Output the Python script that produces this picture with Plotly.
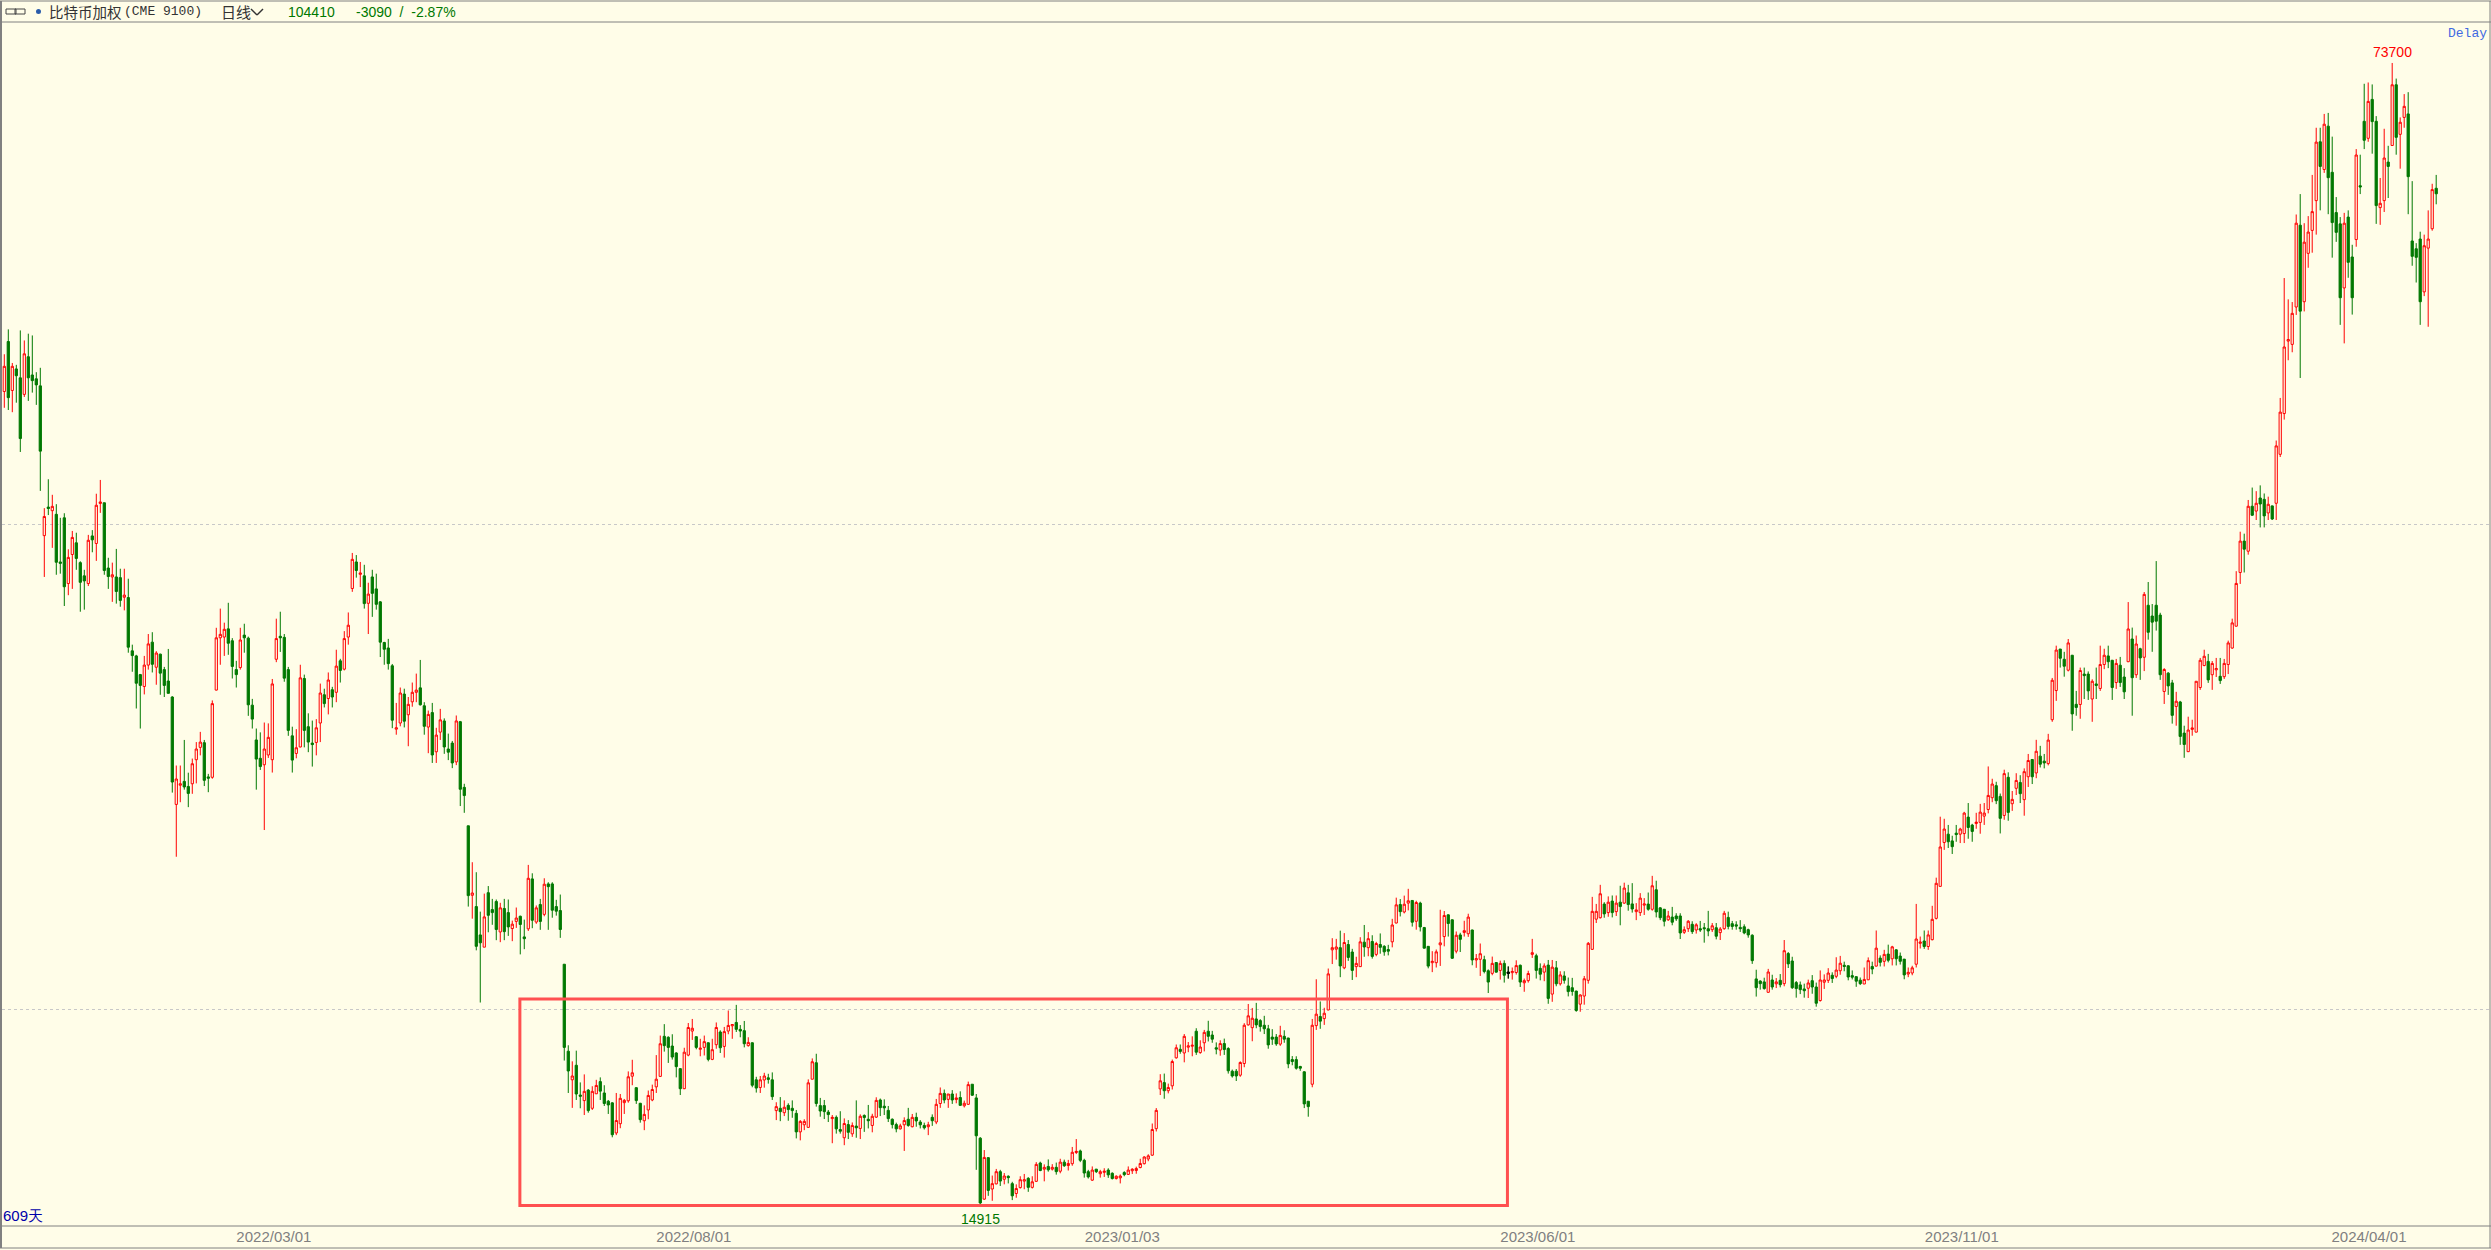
import math
import plotly.graph_objects as go

# 比特币加权 (CME 9100) daily bars, 609 days. R = up (hollow), G = down
colors = (
    "RGRGGRGGGG" "RGRGGGRRGG" "GRGRRGGRGG" "RGGGGRRGRG" "GGGRRGGRRR"
    "GGRRRRGGGR" "GGGGGRRRRG" "GGGRRGGGRR" "GRGRGRRRGR" "GRGGGGGGRR"
    "GRRRGGRGRR" "GGGRGGGRGG" "RGGGRGGRRG" "GRGRGRGGGG" "GGRGGRGRRG"
    "GGGRRRRRGG" "RRRRRGGGGG" "RRRGRRGRRG" "RRRGGGRGGR" "RGGRGRGGGR"
    "RRRGGGGRGG" "RGRGRGGRRG" "GGGGRRGRGG" "GRGRRGRGRG" "RRGGGRGRRG"
    "RGGRRRGRRG" "RGRGRGRRRG" "GGRGRRGGRR" "GRRRRRRRRR" "GRRRGRRRGR"
    "RGGGRGGGGR" "RRRGGGGGGR" "GGGGGGGRRG" "RRRRGRGGRR" "GRGRGGGRRG"
    "RRGRGGGRRR" "RGGRGRRGRR" "GGRGRGGRRG" "RRRGGRGRGR" "GGGGRRRRRR"
    "GRGRGRGGRR" "RGRGGGRGGG" "RRGRGGGRGR" "RGGGGGGGGG" "GRGRGRGGGG"
    "GRGGRRRGRR" "GGGGGRRGRG" "RGRGGGRRRR" "GRRRRRGGGR" "RGGRRRRRGG"
    "RGRRGRRGRG" "GRRRGGRGGR" "GGRGRRGGRG" "GRGRGRGGGG" "RGGRGGRRRR"
    "RGRRGRRRRR" "GRGRGGRGRR" "RRRRGRRRRG" "RGGGGRGGRG" "GRGGRRGRGR"
    "RGGGGRRRG"
)

highs = [
    49070, 50805, 48475, 48350, 50730, 50025, 50500, 50375, 47855, 48150,
    39580, 41210, 40325, 39800, 39050, 39300, 37370, 38340, 38245, 36750,
    36315, 38130, 38385, 40385, 41170, 39880, 36930, 36680, 37390, 36370,
    36370, 35865, 32710, 32250, 31400, 32200, 33200, 33285, 32415, 32300,
    31710, 32515, 30440, 27630, 27630, 28635, 27355, 27900, 28550, 28960,
    28635, 27310, 30260, 33490, 34400, 33730, 34680, 33010, 31980, 33490,
    33680, 33080, 30325, 29095, 28940, 29340, 29305, 31180, 33920, 34250,
    33200, 31710, 29170, 29070, 31805, 31370, 29720, 29420, 29480, 30980,
    30760, 31465, 30840, 32480, 32070, 33335, 34215, 37180, 37070, 36715,
    36570, 35665, 36315, 36120, 34760, 32840, 32975, 31840, 30155, 30810,
    30760, 30405, 31025, 31415, 32020, 30185, 29835, 30155, 29125, 29905,
    29510, 28890, 28595, 29630, 29405, 26935, 25400, 24140, 23805, 22530,
    23105, 23350, 22935, 22915, 22810, 22935, 22915, 22250, 22660, 22405,
    22280, 24050, 23770, 22725, 22935, 23605, 23475, 23475, 22905, 23075,
    20935, 18695, 18280, 18555, 17750, 17950, 17585, 17655, 17815, 17875,
    17680, 17320, 17265, 17490, 17465, 17345, 18025, 18320, 17630, 17250,
    17190, 17550, 17695, 18440, 18950, 19255, 18930, 18985, 18515, 18110,
    18630, 19285, 19395, 18930, 18865, 18950, 18770, 18865, 19300, 19090,
    19180, 19625, 19255, 19780, 19230, 19340, 18905, 18770, 17890, 17910,
    17990, 17965, 18000, 17265, 17390, 17310, 17240, 17310, 17080, 16840,
    16860, 17825, 18355, 18475, 17370, 17320, 17080, 16960, 16950, 17050,
    16880, 16840, 16785, 17310, 16975, 16975, 17200, 16990, 17385, 17355,
    17335, 17175, 16880, 16780, 16755, 16905, 17130, 16985, 17015, 16840,
    16780, 16800, 16975, 17345, 17625, 17575, 17465, 17560, 17480, 17530,
    17305, 17770, 17705, 17465, 16445, 16150, 15985, 15585, 15730, 15710,
    15640, 15590, 15450, 15395, 15570, 15620, 15550, 15570, 15880, 15890,
    15830, 15940, 15835, 15870, 15955, 15935, 15930, 16220, 16400, 16160,
    15955, 15710, 15785, 15730, 15710, 15745, 15745, 15655, 15590, 15610,
    15680, 15785, 15745, 15780, 15955, 16010, 16055, 16760, 17125, 17955,
    17970, 17720, 18325, 18715, 18715, 18990, 18780, 18930, 19145, 18825,
    19100, 19345, 19075, 18770, 18825, 18870, 18645, 18070, 18085, 18280,
    19280, 19805, 19695, 19835, 19390, 19480, 19235, 19120, 18990, 19210,
    19090, 18890, 18415, 18410, 18165, 18030, 17290, 19395, 20500, 19875,
    19700, 20810, 21710, 21690, 21940, 21865, 21655, 21390, 21155, 21740,
    22115, 21895, 21800, 21600, 21855, 21500, 21510, 22305, 22975, 22930,
    23040, 23260, 22885, 22875, 22845, 22055, 21475, 21320, 21370, 22590,
    22550, 22445, 22285, 21915, 21875, 22245, 22465, 21970, 21235, 21550,
    21185, 20785, 21160, 20985, 21040, 21050, 20870, 20840, 21050, 20925,
    20520, 20745, 21690, 21245, 20960, 20960, 21060, 21060, 21030, 20730,
    20730, 20550, 20540, 20175, 20075, 20595, 21595, 23000, 22775, 23390,
    22830, 23015, 23045, 23045, 23360, 23460, 23390, 23445, 22800, 23120,
    22960, 23140, 23685, 23525, 22670, 22615, 22555, 22680, 22480, 22480,
    22070, 22265, 22230, 22170, 22240, 22175, 22555, 22175, 22175, 22050,
    22555, 22530, 22240, 22230, 22265, 22135, 22000, 21830, 20775, 20470,
    20545, 20800, 20630, 20535, 20650, 21655, 21295, 21155, 20450, 20435,
    20375, 20490, 20620, 20405, 20755, 20640, 20820, 20700, 21140, 21180,
    21010, 20905, 20755, 20570, 20550, 20840, 21135, 21010, 21945, 21195,
    21360, 21515, 21480, 21380, 21280, 21085, 20840, 20890, 22775, 21760,
    21945, 21945, 22715, 23625, 25725, 25650, 25430, 25050, 25430, 25330,
    25900, 26220, 25470, 25865, 26190, 26220, 27595, 27125, 27010, 26570,
    27470, 27370, 26665, 27335, 27260, 27520, 28080, 27880, 28640, 28400,
    28080, 28880, 31225, 32665, 32510, 32385, 32970, 32245, 30665, 31680,
    31680, 31510, 31165, 31680, 32665, 32525, 32665, 32020, 32065, 32155,
    31655, 34715, 33500, 33130, 32570, 35205, 35700, 34620, 36760, 34200,
    31655, 31480, 31140, 30625, 30240, 29210, 29580, 29455, 31080, 32110,
    32480, 32290, 31970, 32110, 32110, 32065, 32895, 33920, 36245, 38300,
    38195, 40035, 40735, 40530, 40860, 40400, 40220, 39720, 43500, 46165,
    54580, 52980, 52780, 59645, 61370, 58925, 59510, 63035, 67325, 67325,
    68640, 68735, 66495, 61115, 59430, 59780, 59990, 57175, 65350, 64840,
    71590, 71720, 71525, 68430, 62765, 67230, 65650, 73700, 72110, 68305,
    70565, 70755, 62490, 57305, 58230, 57990, 59990, 62260, 63035,
]

body_tops = [
    48250, 49950, 48250, 48075, 47480, 49100, 48900, 47670, 47415, 46950,
    39120, 39640, 39680, 39240, 36715, 39050, 36950, 37995, 37710, 36680,
    36010, 37845, 38075, 39740, 39925, 39880, 36405, 36065, 35955, 35920,
    35055, 34935, 32430, 32200, 31370, 31790, 32745, 32825, 32330, 32280,
    31590, 31090, 30405, 27115, 26935, 27025, 26835, 27700, 28275, 28550,
    28525, 27195, 30125, 33025, 33185, 33420, 33440, 32890, 31590, 32925,
    33150, 33010, 30060, 28635, 27910, 28275, 28740, 30965, 32990, 33095,
    33045, 31590, 28800, 28325, 31230, 31200, 29170, 28510, 29125, 30575,
    30500, 31135, 30715, 31745, 31980, 32990, 33610, 36850, 36715, 36155,
    36010, 35105, 35955, 35360, 34725, 32810, 32560, 31760, 29125, 30575,
    30530, 30095, 30605, 30700, 30795, 30035, 29675, 29750, 28830, 29450,
    29405, 28275, 28510, 29405, 29375, 26800, 25400, 23125, 22690, 21810,
    22365, 23135, 22595, 22850, 22650, 22630, 22500, 22140, 22330, 22385,
    21750, 23605, 23585, 22650, 22755, 23410, 23420, 23420, 22690, 22565,
    20935, 18540, 17910, 18180, 17440, 17530, 17560, 17530, 17675, 17770,
    17490, 17290, 17250, 16830, 17360, 17310, 17890, 17990, 17620, 17240,
    16975, 17430, 17575, 17830, 18735, 18930, 18905, 18675, 18495, 18095,
    18515, 19165, 19145, 18920, 18620, 18790, 18760, 18580, 19165, 19045,
    19055, 19220, 19245, 19300, 19115, 19080, 18770, 18760, 17815, 17815,
    17910, 17865, 17815, 17160, 17120, 17145, 17190, 17120, 17000, 16810,
    16810, 17740, 18270, 18245, 17185, 17185, 17030, 16905, 16905, 16620,
    16760, 16735, 16715, 16700, 16930, 16950, 16860, 16930, 17310, 17320,
    17170, 17070, 16860, 16735, 16705, 16830, 16860, 16905, 16905, 16795,
    16715, 16730, 16905, 17215, 17480, 17480, 17465, 17465, 17370, 17380,
    17240, 17695, 17705, 17370, 16420, 15985, 15980, 15410, 15670, 15670,
    15575, 15570, 15410, 15305, 15495, 15495, 15525, 15450, 15830, 15860,
    15765, 15785, 15765, 15765, 15880, 15880, 15850, 16100, 16120, 16130,
    15920, 15670, 15705, 15725, 15670, 15680, 15705, 15635, 15570, 15575,
    15650, 15705, 15725, 15740, 15850, 15995, 16020, 16620, 17070, 17790,
    17745, 17625, 18275, 18630, 18590, 18930, 18680, 18695, 19065, 18650,
    19035, 19065, 18965, 18630, 18740, 18740, 18610, 18030, 18030, 18250,
    19225, 19480, 19415, 19395, 19350, 19225, 19130, 18910, 18910, 18955,
    18930, 18885, 18325, 18325, 18150, 18015, 17290, 19225, 19525, 19460,
    19550, 20655, 21425, 21445, 21425, 21580, 21520, 21295, 20960, 21600,
    21590, 21695, 21610, 21550, 21520, 21465, 21370, 22115, 22745, 22755,
    22765, 22875, 22885, 22820, 22800, 22035, 21465, 21020, 21300, 21570,
    22410, 22430, 22275, 21800, 21810, 21940, 22360, 21960, 21100, 21245,
    21070, 20745, 20960, 20985, 20960, 20960, 20705, 20725, 20895, 20905,
    20460, 20665, 21275, 21185, 20815, 20885, 20910, 20850, 20830, 20625,
    20595, 20310, 20260, 20165, 20055, 20515, 21555, 22540, 22540, 23100,
    22770, 22830, 22865, 22800, 22830, 23285, 23130, 22775, 22585, 22960,
    22775, 22770, 23360, 23230, 22650, 22605, 22395, 22360, 22395, 22395,
    21970, 22230, 22135, 22120, 22000, 22030, 22000, 22090, 22030, 21990,
    22480, 22350, 22155, 22120, 22040, 22060, 21970, 21800, 20510, 20450,
    20425, 20710, 20480, 20425, 20470, 21335, 21250, 21030, 20405, 20340,
    20225, 20395, 20460, 20280, 20480, 20480, 20680, 20615, 20765, 20965,
    20905, 20890, 20605, 20575, 20475, 20495, 21040, 20870, 21410, 21115,
    21225, 21235, 21450, 21360, 21175, 21085, 20700, 20830, 21685, 21595,
    21625, 21810, 22290, 23440, 24660, 25285, 25105, 24870, 25140, 25285,
    25855, 25710, 25425, 25530, 25890, 25855, 26500, 26925, 26865, 26465,
    27320, 27180, 26355, 27060, 26985, 27395, 27825, 27865, 28185, 27995,
    27800, 28630, 31125, 32465, 32510, 32050, 32790, 32230, 30095, 31550,
    31395, 31395, 31080, 30965, 31815, 32230, 32200, 32005, 31865, 31785,
    31265, 33435, 32970, 32740, 32525, 35090, 34560, 34045, 34560, 34090,
    31595, 31435, 31010, 30225, 30195, 28910, 29035, 29120, 31080, 32005,
    32185, 31955, 31865, 31640, 31295, 31865, 32790, 33720, 35630, 37800,
    37800, 39685, 39685, 39850, 40145, 40070, 39795, 39705, 43175, 45260,
    49570, 50090, 51955, 58925, 58760, 57385, 58200, 59885, 65990, 66020,
    67660, 67475, 63265, 59805, 58870, 58925, 59430, 56210, 64810, 62090,
    67935, 69850, 70045, 67935, 60585, 64540, 64175, 71490, 71490, 67845,
    69370, 68640, 57480, 56860, 57635, 57100, 57635, 61755, 61870,
]

body_bots = [
    46580, 46185, 46650, 47620, 43620, 46395, 47480, 47295, 47015, 42860,
    38090, 39560, 39440, 36700, 36645, 35465, 35625, 37100, 36895, 35685,
    35755, 35625, 37865, 37675, 39840, 36280, 35975, 35955, 35230, 34795,
    34950, 32595, 32215, 30995, 30900, 30855, 31790, 31825, 31695, 31435,
    30900, 30560, 27000, 26170, 26880, 26815, 26575, 26935, 27855, 28340,
    27065, 27145, 27180, 30700, 33025, 33060, 32775, 31730, 31370, 31680,
    33025, 30075, 29480, 27880, 27590, 27660, 28040, 27855, 32050, 33025,
    31215, 29020, 27840, 28100, 28355, 29020, 28550, 28450, 28535, 29320,
    30125, 30340, 30405, 30605, 31555, 31610, 33060, 35380, 36280, 36085,
    34640, 34655, 35140, 34605, 32825, 32500, 31855, 29435, 29070, 29320,
    29395, 29660, 30200, 30605, 30075, 29185, 29155, 28040, 28165, 28950,
    28355, 28150, 27730, 27770, 26730, 26495, 23040, 23050, 21465, 21570,
    21440, 22415, 22500, 21975, 21900, 21910, 22055, 22005, 22225, 22130,
    21695, 21995, 22260, 22205, 22225, 22445, 23330, 22575, 22545, 21975,
    18640, 18035, 17815, 17465, 17410, 17305, 17065, 17120, 17470, 17535,
    17235, 17200, 16500, 16540, 16755, 17255, 17300, 17905, 17305, 16850,
    16825, 17080, 17320, 17640, 17900, 18685, 18640, 18390, 18145, 17595,
    17595, 18440, 19070, 18640, 18590, 18640, 18330, 18330, 18710, 18630,
    18665, 19070, 19210, 19115, 19070, 18735, 18685, 17680, 17610, 17625,
    17810, 17825, 17400, 17065, 17040, 17015, 17090, 17065, 16565, 16565,
    16730, 16670, 17830, 17235, 17055, 17040, 16970, 16875, 16635, 16580,
    16430, 16555, 16520, 16660, 16645, 16900, 16825, 16715, 16910, 17135,
    17130, 16875, 16735, 16635, 16635, 16730, 16715, 16685, 16820, 16730,
    16660, 16685, 16825, 16795, 17235, 17320, 17335, 17320, 17330, 17190,
    17180, 17215, 17435, 16475, 15000, 15080, 15265, 15295, 15405, 15465,
    15505, 15540, 15150, 15200, 15325, 15465, 15330, 15330, 15460, 15695,
    15725, 15710, 15725, 15670, 15680, 15800, 15805, 15845, 16095, 15920,
    15640, 15555, 15485, 15670, 15625, 15655, 15600, 15520, 15520, 15535,
    15605, 15610, 15690, 15695, 15760, 15845, 15950, 16035, 16640, 17590,
    17545, 17545, 17665, 18370, 18535, 18495, 18645, 18670, 18515, 18505,
    18760, 18930, 18855, 18595, 18570, 18585, 18040, 17910, 17910, 17930,
    18225, 19235, 19160, 19235, 19190, 19130, 18705, 18855, 18730, 18725,
    18855, 18215, 18275, 18105, 18105, 17225, 17160, 17705, 19215, 19335,
    19405, 19640, 21360, 21380, 20885, 20830, 21135, 20755, 20865, 20865,
    21445, 21425, 21165, 21225, 21435, 21300, 21320, 21600, 22175, 22530,
    22520, 22800, 22200, 22230, 22055, 21410, 20880, 20980, 20980, 21510,
    21760, 22160, 21110, 21320, 21675, 21885, 21845, 21060, 21060, 21080,
    20725, 20420, 20670, 20705, 20755, 20615, 20670, 20690, 20695, 20420,
    20400, 20460, 21225, 20755, 20645, 20705, 19960, 20080, 20370, 20370,
    20470, 20150, 20155, 19625, 19800, 20025, 20470, 21375, 22295, 22340,
    22460, 22500, 22500, 22530, 22690, 22800, 22755, 22615, 22530, 22500,
    22735, 22605, 22605, 22520, 22340, 22230, 22275, 22200, 22305, 21870,
    21890, 22000, 21910, 21960, 21960, 22000, 21930, 21970, 21770, 21880,
    22000, 22070, 22070, 22080, 22000, 21870, 21810, 21040, 20260, 20375,
    20235, 20130, 20280, 20370, 20345, 20375, 20945, 20260, 20235, 20205,
    20175, 20245, 20280, 19825, 19900, 20415, 20470, 20520, 20585, 20745,
    20870, 20565, 20560, 20445, 20375, 20365, 20485, 20795, 20880, 20990,
    21020, 21050, 21095, 21095, 21020, 20625, 20650, 20680, 20935, 21555,
    21460, 21460, 21665, 22320, 23340, 24815, 24840, 24670, 25090, 25105,
    25125, 25340, 25200, 25480, 25520, 25745, 25985, 26415, 26305, 25665,
    25770, 25880, 26195, 26765, 26565, 26345, 27200, 27200, 27345, 27680,
    27730, 27705, 29455, 30680, 32095, 31740, 31565, 29695, 29965, 30090,
    31325, 30665, 30320, 30900, 30770, 31815, 31940, 30810, 31025, 31025,
    30625, 31940, 31235, 31365, 32110, 32140, 33280, 33755, 33800, 31365,
    30640, 30880, 29635, 30005, 28775, 28455, 28170, 29060, 28950, 30810,
    31770, 31140, 31365, 31580, 31110, 31280, 31815, 32555, 33565, 36180,
    37375, 37270, 39190, 39420, 39810, 39155, 39315, 38985, 39850, 42670,
    45170, 49980, 49750, 52415, 52115, 52805, 56495, 58335, 60810, 63785,
    63515, 62790, 58975, 58175, 53100, 53830, 55790, 53100, 57595, 61980,
    66155, 66340, 67905, 60390, 60220, 60810, 63785, 65680, 66430, 66710,
    68305, 62880, 56260, 56180, 52805, 53535, 56910, 58470, 61395,
]

lows = [
    45535, 45395, 45255, 45860, 42810, 46230, 45975, 46510, 45720, 40545,
    35955, 39200, 37445, 36065, 36120, 34525, 35050, 35360, 36315, 34250,
    34350, 35500, 37215, 36770, 39320, 36065, 35360, 34725, 34640, 34490,
    34315, 32345, 31495, 29920, 29095, 30515, 31590, 31465, 30930, 30500,
    30405, 30560, 26605, 24325, 26250, 26715, 26070, 26560, 26950, 28025,
    26850, 26620, 27125, 30685, 31805, 32200, 32250, 31200, 30810, 31590,
    32345, 29615, 29095, 26715, 27460, 25250, 27925, 27360, 31920, 32380,
    31060, 28800, 27360, 27910, 28340, 28340, 28150, 27590, 28025, 28550,
    29965, 29675, 29965, 30185, 31025, 31555, 32710, 35215, 35920, 35450,
    34400, 33200, 34005, 34350, 32150, 31805, 31590, 29110, 28845, 29185,
    29140, 28385, 29995, 30185, 30045, 28845, 28110, 27730, 27730, 28635,
    28085, 27840, 27530, 27645, 26110, 25865, 22690, 22310, 21345, 19845,
    21440, 21890, 22120, 21650, 21590, 21650, 21780, 21620, 22025, 21225,
    21380, 21930, 22015, 22150, 21965, 22385, 21965, 22340, 22405, 21720,
    18300, 17490, 17130, 17320, 17120, 16960, 17015, 17080, 17465, 17320,
    17175, 16985, 16440, 16490, 16650, 16985, 17255, 17680, 17225, 16780,
    16605, 16860, 17290, 17490, 17885, 18530, 18240, 18325, 17875, 17440,
    17585, 18410, 18835, 18590, 18410, 18430, 18280, 18310, 18605, 18495,
    18375, 18985, 18865, 19045, 18905, 18640, 18660, 17630, 17500, 17490,
    17620, 17720, 17320, 16840, 16815, 16935, 16825, 16895, 16415, 16370,
    16605, 16660, 17825, 17160, 16920, 16865, 16795, 16305, 16525, 16525,
    16260, 16400, 16450, 16430, 16400, 16565, 16645, 16555, 16890, 16935,
    16960, 16795, 16645, 16555, 16620, 16130, 16685, 16670, 16685, 16645,
    16620, 16490, 16705, 16745, 17130, 17240, 17130, 17225, 17240, 17175,
    17140, 17200, 17420, 15710, 14915, 15065, 15150, 15045, 15395, 15360,
    15395, 15415, 15060, 15110, 15305, 15290, 15235, 15305, 15445, 15680,
    15460, 15670, 15695, 15605, 15635, 15775, 15695, 15800, 16060, 15880,
    15540, 15520, 15470, 15640, 15540, 15555, 15535, 15500, 15500, 15415,
    15570, 15600, 15620, 15625, 15745, 15830, 15900, 16020, 16575, 17440,
    17350, 17480, 17575, 18350, 18475, 18255, 18515, 18410, 18445, 18475,
    18535, 18795, 18760, 18460, 18425, 18445, 17970, 17870, 17785, 17890,
    18130, 19215, 18800, 19145, 19055, 18990, 18605, 18705, 18680, 18680,
    18760, 18105, 18180, 18070, 18040, 17125, 16920, 17630, 19100, 19130,
    19235, 19630, 20940, 21070, 20560, 20790, 21035, 20480, 20560, 20855,
    21155, 21170, 21100, 21170, 21245, 21185, 21195, 21435, 22165, 22380,
    22475, 22570, 22065, 21970, 21915, 21400, 20815, 20705, 20840, 20885,
    21465, 21760, 21090, 21255, 21295, 21760, 21750, 20905, 20830, 20595,
    20670, 20110, 20615, 20695, 20490, 20405, 20520, 20490, 20635, 20280,
    20145, 20405, 21120, 20520, 20470, 20445, 19810, 19865, 20300, 20320,
    20375, 20015, 20035, 19590, 19590, 19785, 20375, 21355, 22175, 22315,
    22340, 22370, 22350, 22395, 22105, 22775, 22560, 22500, 22265, 22395,
    22425, 22560, 22560, 22350, 22265, 22070, 22240, 22105, 22240, 21685,
    21840, 21900, 21840, 21850, 21900, 21575, 21770, 21900, 21675, 21655,
    21970, 21980, 21970, 21970, 21900, 21830, 21725, 20945, 20010, 20205,
    20205, 20120, 20205, 20250, 20270, 20300, 20825, 20225, 19980, 20080,
    19980, 19970, 20090, 19730, 19870, 20225, 20395, 20395, 20530, 20630,
    20730, 20470, 20495, 20285, 20335, 20365, 20475, 20645, 20870, 20870,
    20870, 20990, 20900, 20900, 20925, 20500, 20560, 20615, 20840, 21400,
    21390, 21360, 21645, 22285, 23330, 24560, 24625, 24420, 24840, 24795,
    24795, 24945, 24840, 25295, 25120, 25430, 25845, 26250, 26180, 25130,
    25615, 25580, 25935, 26515, 26220, 25760, 26815, 26925, 27145, 27555,
    27520, 27635, 29370, 30240, 31680, 31280, 31510, 29005, 29620, 29495,
    30320, 30280, 29370, 30320, 30665, 31610, 31655, 30280, 30750, 30835,
    30320, 31925, 29620, 31225, 31140, 31525, 32940, 32385, 33360, 31140,
    30110, 30495, 29295, 29210, 28440, 27930, 28155, 28805, 28940, 30710,
    31740, 31010, 30710, 31265, 30965, 31180, 31395, 32525, 33550, 35605,
    36180, 37090, 39155, 38930, 38530, 38530, 38930, 38930, 38930, 42510,
    44790, 48660, 49205, 51840, 47470, 52095, 55370, 56545, 57990, 59990,
    63215, 59670, 56155, 57410, 51125, 49820, 54600, 51865, 57020, 61370,
    65350, 66020, 64930, 58870, 58790, 59855, 61035, 65650, 64840, 63585,
    67325, 59670, 55525, 54240, 51125, 53220, 50990, 58310, 60500,
]

# the one bar that closes where it opened is drawn black on top of the others
doji_bars = [376]

tick_positions = [67.4, 172.4, 279.5, 383.4, 489.4, 591.2]
tick_labels = ["2022/03/01", "2022/08/01", "2023/01/03", "2023/06/01", "2023/11/01", "2024/04/01"]
grid_prices = [38710, 19640]

BG = "#FFFDE8"
RED = "#FF0000"
GREEN = "#007800"
FRAME = "#808080"
CJK = "Noto Sans CJK SC"
SANS = "Liberation Sans"
MONO = "Liberation Mono"

W, H = 2491, 1250
PL, PR, PT, PB = 2, 2489, 22, 1226


def paper_x(px):
    return (px - PL) / (PR - PL)


def paper_y(py):
    return (PB - py) / (PB - PT)


def label(text, px, py, color, family=SANS, size=14, anchor="left"):
    return dict(
        text=text, xref="paper", yref="paper", x=paper_x(px), y=paper_y(py),
        xanchor=anchor, yanchor="middle", showarrow=False,
        font=dict(color=color, family=family, size=size),
        borderpad=0, xshift=0,
    )


def frame_line(x0, y0, x1, y1, width=1, color=FRAME):
    return dict(
        type="line", xref="paper", yref="paper",
        x0=paper_x(x0), y0=paper_y(y0), x1=paper_x(x1), y1=paper_y(y1),
        line=dict(color=color, width=width),
    )


bars = list(range(len(highs)))
opens = [b if c == "R" else t for c, t, b in zip(colors, body_tops, body_bots)]
closes = [t if c == "R" else b for c, t, b in zip(colors, body_tops, body_bots)]

fig = go.Figure(
    go.Candlestick(
        x=bars, open=opens, high=highs, low=lows, close=closes,
        increasing=dict(line=dict(color=RED, width=1), fillcolor=BG),
        decreasing=dict(line=dict(color=GREEN, width=1), fillcolor=GREEN),
        whiskerwidth=0,
        hoverinfo="skip",
    )
)
fig.add_trace(
    go.Candlestick(
        x=doji_bars,
        open=[opens[i] for i in doji_bars], high=[highs[i] for i in doji_bars],
        low=[lows[i] for i in doji_bars], close=[closes[i] for i in doji_bars],
        increasing=dict(line=dict(color="#000000", width=1), fillcolor="#000000"),
        decreasing=dict(line=dict(color="#000000", width=1), fillcolor="#000000"),
        whiskerwidth=0,
        hoverinfo="skip",
    )
)

annotations = [
    label("比特币加权", 48, 12, "#333333", CJK, 14.5),
    label("(CME 9100)", 123, 12, "#333333", MONO, 13),
    label("日线", 220, 12, "#333333", CJK, 15),
    label("104410", 287, 12, GREEN, SANS, 14),
    label("-3090\u00a0 /\u00a0 -2.87%", 355, 12, GREEN, SANS, 14),
    label("Delay", 2488, 33, "#4169E1", MONO, 13, anchor="right"),
    label("609天", 2, 1215, "#0000AA", SANS, 15),
    dict(x=597, y=math.log10(73700), text="73700", showarrow=False, yanchor="bottom",
         yshift=1, font=dict(color=RED, family=SANS, size=14)),
    dict(x=244, y=math.log10(14915), text="14915", showarrow=False, yanchor="top",
         yshift=-2, font=dict(color=GREEN, family=SANS, size=14)),
]

shapes = [
    # the red box around the 2022-2023 range
    dict(type="rect", xref="x", yref="y", x0=128.9, x1=375.8, y0=14945, y1=19940,
         line=dict(color="#FF5050", width=3), layer="above"),
    frame_line(0, 1, W, 1),
    frame_line(0, PT, W, PT),
    frame_line(0, PB, W, PB),
    frame_line(0, 1248, W, 1248),
    frame_line(1, 1, 1, 1248, width=2),
    frame_line(2490, 1, 2490, 1248),
    # link icon, dot and the little chevron in the header
    dict(type="rect", xref="paper", yref="paper", x0=paper_x(6), x1=paper_x(16),
         y0=paper_y(14), y1=paper_y(9), line=dict(color="#444444", width=1)),
    dict(type="rect", xref="paper", yref="paper", x0=paper_x(15), x1=paper_x(25),
         y0=paper_y(14), y1=paper_y(9), line=dict(color="#444444", width=1)),
    dict(type="circle", xref="paper", yref="paper", x0=paper_x(36), x1=paper_x(41),
         y0=paper_y(14), y1=paper_y(9), line=dict(width=0), fillcolor="#2A5CAA"),
    frame_line(251, 9, 257, 15, width=1.5, color="#333333"),
    frame_line(257, 15, 263, 9, width=1.5, color="#333333"),
]

fig.update_layout(
    width=W, height=H,
    margin=dict(l=PL, r=W - PR, t=PT, b=H - PB, pad=0),
    paper_bgcolor=BG, plot_bgcolor=BG,
    showlegend=False,
    boxgap=0.2,
    annotations=annotations,
    shapes=shapes,
    xaxis=dict(
        range=[-0.575, 621.2],
        rangeslider=dict(visible=False),
        tickvals=tick_positions, ticktext=tick_labels,
        tickfont=dict(color=FRAME, family=SANS, size=15),
        ticks="", showgrid=False, zeroline=False, showline=False,
    ),
    yaxis=dict(
        type="log",
        range=[math.log10(14525), math.log10(78040)],
        tickvals=grid_prices, showticklabels=False, ticks="",
        showgrid=True, gridcolor="#C8C8C8", griddash="3px,3px", gridwidth=1,
        zeroline=False, showline=False,
    ),
)

fig.write_html(
    "out.html",
    config={"displayModeBar": False},
    post_script="document.body.style.margin='0';",
)
